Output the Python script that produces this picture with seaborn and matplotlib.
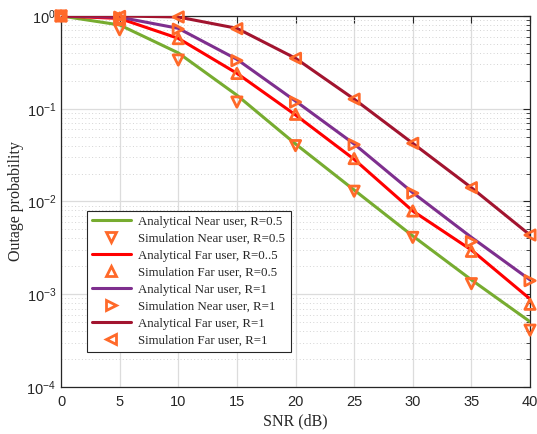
import numpy as np
import pandas as pd
import matplotlib
matplotlib.use("Agg")
import matplotlib.pyplot as plt
from matplotlib.lines import Line2D
from matplotlib.ticker import LogLocator, NullFormatter, FixedLocator
import seaborn as sns

snr = [0, 5, 10, 15, 20, 25, 30, 35, 40]

ana_near_05 = [1.0, 0.80, 0.40, 0.140, 0.0417, 0.0133, 0.00425, 0.00143, 0.000506]
sim_near_05 = [1.0, 0.71, 0.335, 0.118, 0.040, 0.0129, 0.0041, 0.00130, 0.00041]
ana_far_05 = [1.0, 0.94, 0.574, 0.241, 0.0857, 0.0285, 0.0079, 0.0030, 0.00089]
sim_far_05 = [1.0, 0.95, 0.57, 0.24, 0.087, 0.029, 0.0079, 0.0029, 0.00078]
ana_near_1 = [1.0, 0.97, 0.736, 0.341, 0.121, 0.0417, 0.01245, 0.00411, 0.00143]
sim_near_1 = [1.0, 0.97, 0.72, 0.33, 0.118, 0.041, 0.0123, 0.0037, 0.00140]
ana_far_1 = [1.0, 1.0, 0.975, 0.736, 0.35, 0.127, 0.0424, 0.0141, 0.00435]
sim_far_1 = [1.0, 0.99, 0.975, 0.73, 0.35, 0.127, 0.0424, 0.0141, 0.00435]

labels = [
    "Analytical Near user, R=0.5",
    "Simulation Near user, R=0.5",
    "Analytical Far user, R=0..5",
    "Simulation Far user, R=0.5",
    "Analytical Nar user, R=1",
    "Simulation Near user, R=1",
    "Analytical Far user, R=1",
    "Simulation Far user, R=1",
]

line_colors = ["#77AC30", "#FF0000", "#7E2F8E", "#A2142F"]
sim_color = "#FF6929"
sim_markers = ["v", "^", ">", "<"]

analytical = [ana_near_05, ana_far_05, ana_near_1, ana_far_1]
simulated = [sim_near_05, sim_far_05, sim_near_1, sim_far_1]

sns.set_theme(style="white")
plt.rcParams["font.family"] = ["Liberation Sans", "DejaVu Sans"]
plt.rcParams["mathtext.fontset"] = "custom"
plt.rcParams["mathtext.rm"] = "Liberation Sans"
plt.rcParams["mathtext.it"] = "Liberation Sans:italic"

fig = plt.figure(figsize=(5.37, 4.34), dpi=100)
ax = fig.add_axes([0.1136, 0.1083, 0.8734, 0.8549])

handles = []
for i in range(4):
    df_a = pd.DataFrame({"snr": snr, "p": analytical[i]})
    sns.lineplot(data=df_a, x="snr", y="p", ax=ax, color=line_colors[i],
                 linewidth=2.2, zorder=3)
    df_s = pd.DataFrame({"snr": snr, "p": simulated[i]})
    sns.scatterplot(data=df_s, x="snr", y="p", ax=ax, marker=sim_markers[i],
                    s=55, facecolor="none", edgecolor=sim_color,
                    linewidth=2.0, zorder=4, clip_on=False)
    handles.append(Line2D([], [], color=line_colors[i], linewidth=2.2))
    handles.append(Line2D([], [], linestyle="none", marker=sim_markers[i],
                          markersize=7, markerfacecolor="none",
                          markeredgecolor=sim_color, markeredgewidth=2.0))

ax.set_yscale("log")
ax.set_xlim(0, 40)
ax.set_ylim(1e-4, 1)
ax.xaxis.set_major_locator(FixedLocator(snr))
ax.yaxis.set_major_locator(LogLocator(base=10, numticks=10))
ax.yaxis.set_minor_locator(LogLocator(base=10, subs=np.arange(2, 10), numticks=10))
ax.yaxis.set_minor_formatter(NullFormatter())

ax.grid(True, which="major", color="#DCDCDC", linewidth=0.9, linestyle="-")
ax.grid(True, which="minor", axis="y", color="#D4D4D4", linewidth=0.7, linestyle=(0, (1, 2.5)))
ax.set_axisbelow(True)

for side in ["top", "right", "bottom", "left"]:
    ax.spines[side].set_visible(True)
    ax.spines[side].set_color("#262626")
    ax.spines[side].set_linewidth(0.9)

ax.tick_params(axis="both", which="both", direction="in", top=True, right=True,
               colors="#262626", labelsize=10.5)
ax.tick_params(axis="both", which="major", length=5, width=0.8)
ax.tick_params(axis="y", which="minor", length=3, width=0.6)
ax.tick_params(axis="x", which="major", pad=6)

ax.set_xlabel("SNR (dB)", fontsize=11.5, family=["Liberation Serif"], color="#262626", labelpad=3)
ax.set_ylabel("Outage probability", fontsize=11.5, family=["Liberation Serif"], color="#262626", labelpad=2)

leg = ax.legend(handles, labels, loc="lower left", bbox_to_anchor=(0.055, 0.095),
                prop={"family": "Liberation Serif", "size": 9.3},
                frameon=True, fancybox=False, edgecolor="#262626",
                handlelength=3.0, handletextpad=0.6, labelspacing=0.38,
                borderpad=0.4, borderaxespad=0)
leg.get_frame().set_linewidth(0.8)
leg.get_frame().set_facecolor("white")
leg.get_frame().set_alpha(1)
leg.set_zorder(10)

fig.savefig("out.png", dpi=100)
